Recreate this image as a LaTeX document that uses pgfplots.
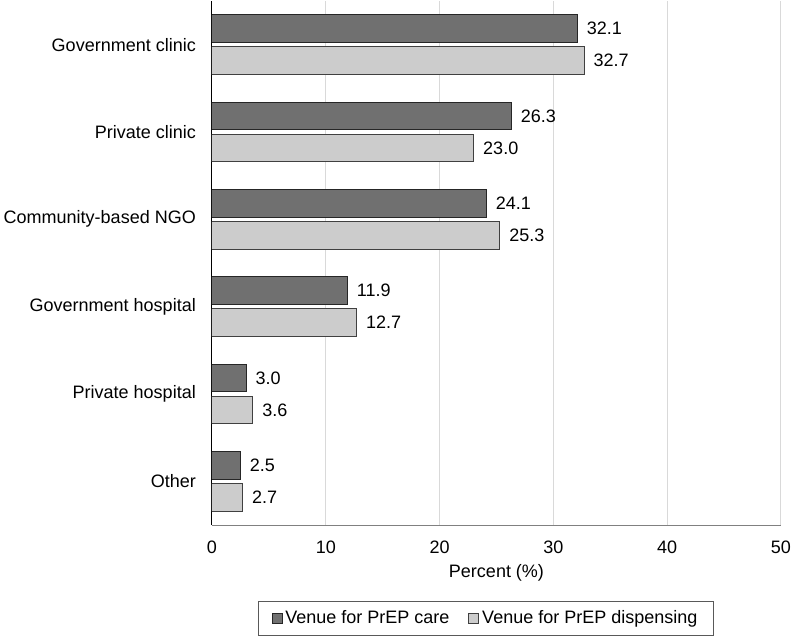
\documentclass[border=0pt]{standalone}
\usepackage{pgfplots}
\pgfplotsset{compat=1.18}
\usepackage{fontspec}
\setmainfont{Liberation Sans}
\definecolor{care}{HTML}{707070}
\definecolor{disp}{HTML}{CCCCCC}
\definecolor{gridc}{HTML}{D9D9D9}
\pgfplotsset{sqlegend/.style={legend image code/.code={\draw[##1, line width=0.8bp] (0bp,-5bp) rectangle (10bp,5bp);}}}
\begin{document}
\fontsize{18bp}{21bp}\selectfont
\begin{tikzpicture}
\useasboundingbox (-212bp,-117bp) rectangle (579bp,525bp);
\begin{axis}[
  at={(0,0)}, anchor=south west,
  scale only axis, width=569bp, height=524bp,
  xbar, xmin=0, xmax=50, ymin=-0.5, ymax=5.5,
  xtick={0,10,...,50}, ytick={0,...,5},
  yticklabels={Other, Private hospital, Government hospital, Community-based NGO, Private clinic, Government clinic},
  xmajorgrids, grid style={draw=gridc, line width=1bp},
  axis x line*=bottom, axis y line*=left,
  x axis line style={draw=black!50, line width=1bp, -},
  y axis line style={draw=black, line width=1bp, -},
  major tick length=0pt,
  tick label style={font=\fontsize{18bp}{21bp}\selectfont},
  /pgf/number format/assume math mode=true,
  xticklabel style={yshift=-10bp},
  yticklabel style={xshift=-10bp},
  xlabel={Percent (\%)},
  every axis x label/.style={at={(axis description cs:0.5,0)}, anchor=center, yshift=-48bp, font=\fontsize{18bp}{21bp}\selectfont},
  nodes near coords={\pgfmathprintnumber[fixed,fixed zerofill,precision=1]{\pgfplotspointmeta}},
  nodes near coords style={anchor=west, inner sep=0pt, xshift=9bp, font=\fontsize{18bp}{21bp}\selectfont, black},
  legend columns=2,
  legend style={at={(0.4815,-0.145)}, anchor=north, draw=black!65, line width=0.8bp,
    inner xsep=13bp, inner ysep=7bp, font=\fontsize{18bp}{21bp}\selectfont,
    /tikz/every even column/.append style={column sep=16bp}, nodes={inner xsep=3bp, inner ysep=2bp}},
  legend cell align=left,
]
\addplot[fill=care, draw=black!85, line width=1bp, bar width=0.32, bar shift=0.183, sqlegend]
  coordinates {(2.5,0) (3.0,1) (11.9,2) (24.1,3) (26.3,4) (32.1,5)};
\addlegendentry{Venue for PrEP care}
\addplot[fill=disp, draw=black!75, line width=1bp, bar width=0.32, bar shift=-0.183, sqlegend]
  coordinates {(2.7,0) (3.6,1) (12.7,2) (25.3,3) (23.0,4) (32.7,5)};
\addlegendentry{Venue for PrEP dispensing}
\end{axis}
\end{tikzpicture}
\end{document}
